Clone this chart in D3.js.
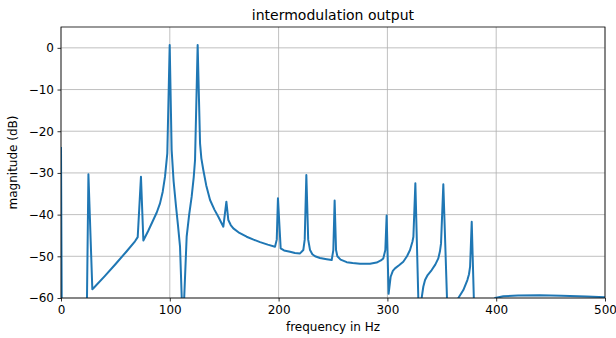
<!DOCTYPE html>
<html>
<head>
<meta charset="utf-8">
<script src="https://cdn.jsdelivr.net/npm/d3@7"></script>
<style>
  body { margin: 0; background: #fff; }
  svg { display: block; font-family: "DejaVu Sans", sans-serif; }
</style>
</head>
<body>
<div id="chart"></div>
<script>
// spectrum (Hz, dB); values below -60 are clipped away
var freq = [0, 1, 23, 25.2, 28.8, 30, 40, 50, 60, 68, 70.5, 73.5, 75.7, 80, 84.8, 88, 91, 93.5, 95.6, 97.7,
    99.9, 101.7, 103.5, 105.7, 107.5, 109.4, 112, 115.5, 117.8, 120.1, 122, 123.2, 125.6, 127.8, 129, 130.8,
    133.5, 137, 141, 144.6, 149.2, 152, 153.8, 156, 158.4, 164, 170.6, 177, 183, 190, 196.7, 198.3, 199.4,
    201.9, 205, 210.5, 215, 219.7, 222.7, 224, 225.5, 227.2, 228.9, 231, 233.5, 238, 244.2, 248.8, 250.3,
    251.5, 252.8, 254, 257, 262.6, 268, 274.8, 284, 290.1, 294, 296.2, 298.1, 299.3, 301.1, 303, 305, 307,
    311, 314.6, 318, 320.8, 323, 323.9, 325.7, 329, 331.5, 333, 334.6, 337, 340.7, 344, 346.8, 348.3, 349.3,
    351.4, 356, 362, 365.2, 369.8, 373.5, 375, 376, 377.5, 380.5, 392, 399, 406.5, 420, 440, 460, 483, 500];
var mag = [-24, -80, -80, -30.3, -57.9, -57.6, -54.8, -51.9, -48.9, -46.4, -45.4, -30.9, -46.2, -44, -41.3, -39.5, -37.3, -34.5, -30.9, -25.3,
    0.7, -24.5, -32, -38, -42.5, -47.7, -68, -45.3, -40, -35.7, -31, -26.9, 0.7, -22.9, -26.5, -29.3,
    -33, -36.5, -38.8, -40.5, -42.9, -36.9, -41.3, -42.5, -43.3, -44.4, -45.3, -46, -46.6, -47.2, -47.7, -46, -36.1,
    -48.1, -48.6, -48.9, -49.2, -49.3, -48.5, -46, -30.5, -46, -48.5, -49.5, -50, -50.4, -50.7, -50.9, -48.5,
    -36.6, -48.5, -50, -50.8, -51.4, -51.6, -51.8, -51.8, -51.5, -51, -50.5, -48.5, -40.2, -59, -54.9, -53.5, -52.9,
    -52.1, -51.3, -50, -48.5, -46.5, -45.3, -32.5, -66, -60, -57.3, -55.7, -54.5, -53.3, -52, -50.5, -48.8, -46.9,
    -32.7, -70, -64, -60, -58.1, -55.7, -54.3, -52.5, -41.7, -70, -70, -60, -59.6, -59.4, -59.35, -59.45, -59.65, -59.8];

var xTicks = [0, 100, 200, 300, 400, 500];
var yTicks = [0, -10, -20, -30, -40, -50, -60];

var width = 616, height = 338;
var margin = {top: 27, right: 11, bottom: 40, left: 61};
var w = width - margin.left - margin.right;
var h = height - margin.top - margin.bottom;

var svg = d3.select("#chart").append("svg")
    .attr("width", width)
    .attr("height", height);

var x = d3.scaleLinear().domain([0, 500]).range([0, w]);
var y = d3.scaleLinear().domain([-60, 5]).range([h, 0]);

svg.append("defs").append("clipPath")
    .attr("id", "plot-clip")
    .append("rect")
    .attr("width", w)
    .attr("height", h);

var g = svg.append("g")
    .attr("transform", "translate(" + margin.left + "," + margin.top + ")");

// grid
g.append("g")
    .selectAll("line")
    .data(xTicks)
    .enter().append("line")
    .attr("x1", function(d) { return x(d); })
    .attr("x2", function(d) { return x(d); })
    .attr("y1", 0)
    .attr("y2", h)
    .style("stroke", "#b0b0b0")
    .style("stroke-width", 0.8);

g.append("g")
    .selectAll("line")
    .data(yTicks)
    .enter().append("line")
    .attr("x1", 0)
    .attr("x2", w)
    .attr("y1", function(d) { return y(d); })
    .attr("y2", function(d) { return y(d); })
    .style("stroke", "#b0b0b0")
    .style("stroke-width", 0.8);

var points = freq.map(function(f, i) { return [f, mag[i]]; });

var line = d3.line()
    .x(function(d) { return x(d[0]); })
    .y(function(d) { return y(d[1]); });

g.append("path")
    .datum(points)
    .attr("clip-path", "url(#plot-clip)")
    .attr("d", line)
    .style("fill", "none")
    .style("stroke", "#1f77b4")
    .style("stroke-width", 2)
    .style("stroke-linejoin", "round")
    .style("stroke-linecap", "square");

// frame
g.append("rect")
    .attr("width", w)
    .attr("height", h)
    .style("fill", "none")
    .style("stroke", "#000")
    .style("stroke-width", 0.8);

var fmt = function(d) { return d < 0 ? "\u2212" + Math.abs(d) : String(d); };

var xAxis = g.append("g")
    .attr("transform", "translate(0," + h + ")")
    .call(d3.axisBottom(x).tickValues(xTicks).tickFormat(fmt).tickSize(3.5).tickPadding(3.5));

var yAxis = g.append("g")
    .call(d3.axisLeft(y).tickValues(yTicks).tickFormat(fmt).tickSize(3.5).tickPadding(3.5));

[xAxis, yAxis].forEach(function(a) {
    a.select(".domain").remove();
    a.selectAll("line").style("stroke", "#000").style("stroke-width", 0.8);
    a.selectAll("text")
        .style("font-family", '"DejaVu Sans", sans-serif')
        .style("font-size", "12px")
        .style("fill", "#000");
});

svg.append("text")
    .attr("x", margin.left + w / 2)
    .attr("y", 20)
    .attr("text-anchor", "middle")
    .style("font-size", "14px")
    .text("intermodulation output");

svg.append("text")
    .attr("x", margin.left + w / 2)
    .attr("y", 331)
    .attr("text-anchor", "middle")
    .style("font-size", "12px")
    .text("frequency in Hz");

svg.append("text")
    .attr("transform", "translate(17," + (margin.top + h / 2) + ") rotate(-90)")
    .attr("text-anchor", "middle")
    .style("font-size", "12px")
    .text("magnitude (dB)");
</script>
</body>
</html>
